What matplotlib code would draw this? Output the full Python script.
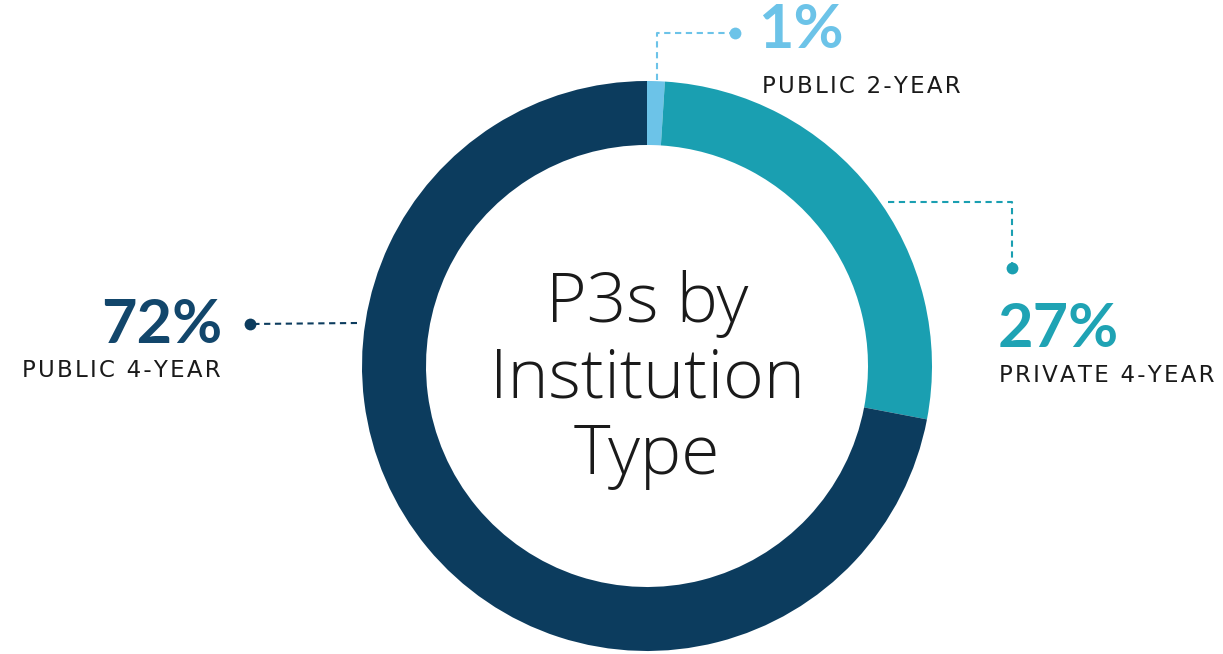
import matplotlib.pyplot as plt
import numpy as np

# data
labels = ['PUBLIC 2-YEAR', 'PRIVATE 4-YEAR', 'PUBLIC 4-YEAR']
shares = [1, 27, 72]
pct_text = ['1%', '27%', '72%']
colors = ['#6cc3e8', '#1a9fb1', '#0c3c5e']
text_colors = ['#6cc3e8', '#1fa3b4', '#12466b']
center_title = ['P3s by', 'Institution', 'Type']

W, H = 1223, 654
fig = plt.figure(figsize=(W / 100, H / 100), dpi=100)
ax = fig.add_axes([0, 0, 1, 1])

cx, cy = 647, H - 366
R = 285
ax.pie(shares, colors=colors, startangle=90, counterclock=False,
       radius=R, center=(cx, cy),
       wedgeprops=dict(width=64, linewidth=0))
ax.set_xlim(0, W)
ax.set_ylim(0, H)
ax.set_aspect('equal')
ax.axis('off')

# centre title (baselines)
title_y = [H - 322, H - 398, H - 474]
for line, y in zip(center_title, title_y):
    ax.text(cx, y, line, ha='center', va='baseline', fontsize=50,
            family='Open Sans', fontweight='light', color='#1a1a1a')

def leader(xs, ys, c):
    ax.plot(xs, ys, color=c, lw=1.5, ls=(0, (3, 2.2)))
    ax.plot(xs[-1], ys[-1], 'o', color=c, ms=8.5, mec='none')

def spaced(s):
    # mimic the wide tracking of the original labels
    return '\u200a'.join(s)

lab_font = dict(family='DejaVu Sans', fontsize=16.5, color='#1a1a1a', va='baseline')
num_font = dict(family='Lato', fontsize=44, fontweight='bold', va='baseline')

# 1% public 2-year
leader([657, 657, 735], [H - 80, H - 33, H - 33], colors[0])
ax.text(758, H - 48, pct_text[0], ha='left', color=text_colors[0], **num_font)
ax.text(762, H - 93, spaced(labels[0]), ha='left', **lab_font)

# 27% private 4-year
leader([888, 1012, 1012], [H - 202, H - 202, H - 268], colors[1])
ax.text(998, H - 347, pct_text[1], ha='left', color=text_colors[1], **num_font)
ax.text(999, H - 382, spaced(labels[1]), ha='left', **lab_font)

# 72% public 4-year
leader([357, 250], [H - 323, H - 324], colors[2])
ax.text(222, H - 343, pct_text[2], ha='right', color=text_colors[2], **num_font)
ax.text(221, H - 377, spaced(labels[2]), ha='right', **lab_font)

fig.savefig('out.png', dpi=100, facecolor='white')
